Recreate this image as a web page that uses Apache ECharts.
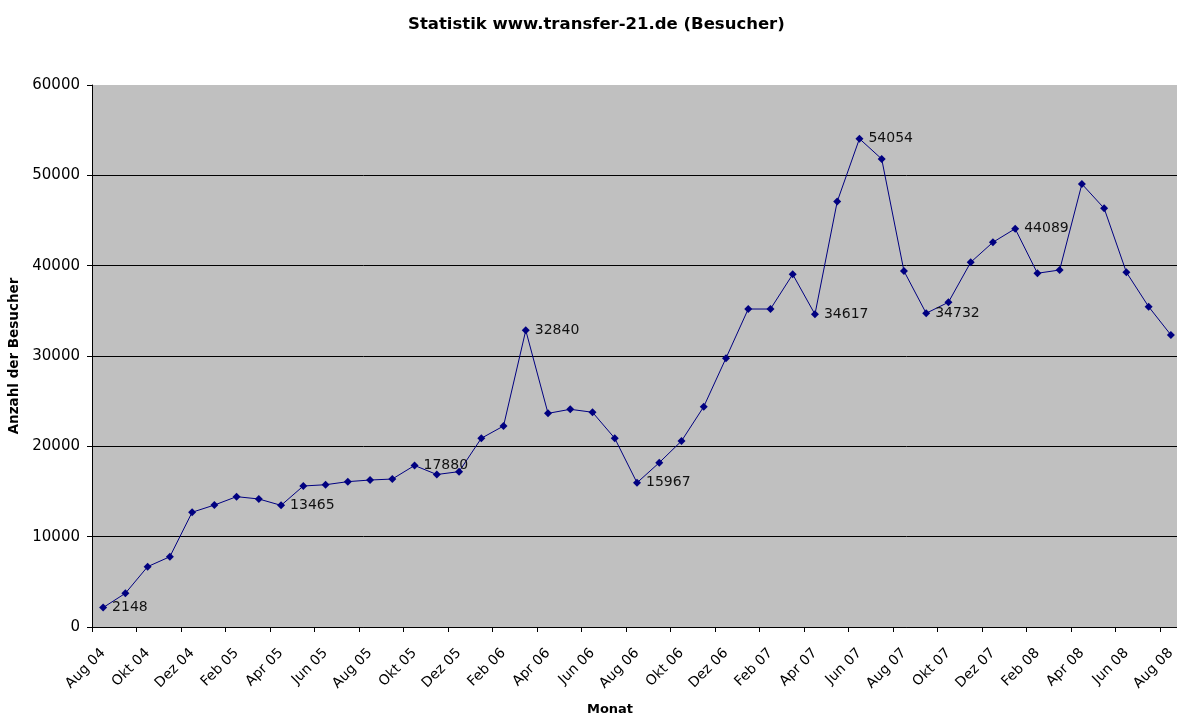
<!DOCTYPE html>
<html>
<head>
<meta charset="utf-8">
<script src="https://cdn.jsdelivr.net/npm/echarts@6/dist/echarts.min.js"></script>
<style>
html,body{margin:0;padding:0;background:#fff;overflow:hidden;}
#chart{width:1177px;height:717px;}
</style>
</head>
<body>
<div id="chart"></div>
<script>
var categories = [
  "Aug 04","Sep 04","Okt 04","Nov 04","Dez 04",
  "Jan 05","Feb 05","Mär 05","Apr 05","Mai 05","Jun 05","Jul 05","Aug 05","Sep 05","Okt 05","Nov 05","Dez 05",
  "Jan 06","Feb 06","Mär 06","Apr 06","Mai 06","Jun 06","Jul 06","Aug 06","Sep 06","Okt 06","Nov 06","Dez 06",
  "Jan 07","Feb 07","Mär 07","Apr 07","Mai 07","Jun 07","Jul 07","Aug 07","Sep 07","Okt 07","Nov 07","Dez 07",
  "Jan 08","Feb 08","Mär 08","Apr 08","Mai 08","Jun 08","Jul 08","Aug 08"
];
var visitors = [
  2148, 3730, 6680, 7780, 12700,
  13500, 14430, 14170, 13465, 15610, 15750, 16090, 16270, 16380, 17880, 16880, 17200,
  20890, 22250, 32840, 23650, 24100, 23770, 20890, 15967, 18190, 20590, 24390, 29760,
  35200, 35200, 39040, 34617, 47090, 54054, 51810, 39410, 34732, 35950, 40370, 42590,
  44089, 39160, 39520, 49040, 46350, 39270, 35460, 32330
];
var labelledIndices = [0, 8, 14, 19, 24, 32, 34, 37, 41];
var yTicks = { min: 0, max: 60000, interval: 10000 };

var FONT = 'DejaVu Sans, Liberation Sans, Arial, sans-serif';
var chart = echarts.init(document.getElementById('chart'));
chart.setOption({
  animation: false,
  backgroundColor: '#ffffff',
  title: {
    text: 'Statistik www.transfer-21.de (Besucher)',
    left: 403,
    top: 11,
    textStyle: { fontFamily: FONT, fontSize: 16.5, fontWeight: 'bold', color: '#000' }
  },
  grid: {
    left: 92, top: 85, width: 1090, height: 542,
    outerBoundsMode: 'none',
    containLabel: false,
    show: true, backgroundColor: '#c0c0c0', borderWidth: 0
  },
  xAxis: {
    type: 'category',
    data: categories,
    boundaryGap: true,
    name: 'Monat',
    nameLocation: 'middle',
    nameGap: 76,
    nameTextStyle: { fontFamily: FONT, fontSize: 13, fontWeight: 'bold', color: '#000', padding: [0, 54, 0, 0] },
    axisLine: { show: true, lineStyle: { color: '#000', width: 1 } },
    axisTick: { show: true, interval: 1, inside: false, length: 5, lineStyle: { color: '#000' } },
    axisLabel: {
      interval: 1, rotate: 45, margin: 24,
      fontFamily: FONT, fontSize: 14, color: '#000'
    },
    splitLine: { show: false }
  },
  yAxis: {
    type: 'value',
    min: yTicks.min, max: yTicks.max, interval: yTicks.interval,
    name: 'Anzahl der Besucher',
    nameLocation: 'middle',
    nameGap: 66,
    nameRotate: 90,
    nameTextStyle: { fontFamily: FONT, fontSize: 13.5, fontWeight: 'bold', color: '#000' },
    axisLine: { show: true, lineStyle: { color: '#000', width: 1 } },
    axisTick: { show: true, inside: false, length: 5, lineStyle: { color: '#000' } },
    axisLabel: {
      margin: 12, fontFamily: FONT, fontSize: 15, color: '#000',
      formatter: function (v) { return String(v); }
    },
    splitLine: { show: true, showMaxLine: false, lineStyle: { color: '#000', width: 1 } }
  },
  series: [{
    type: 'line',
    data: visitors,
    symbol: 'diamond',
    symbolSize: 8,
    itemStyle: { color: '#000080' },
    lineStyle: { color: '#000080', width: 1 },
    label: {
      show: true,
      position: 'right',
      distance: 5,
      fontFamily: FONT,
      fontSize: 14,
      color: '#111',
      formatter: function (p) {
        return labelledIndices.indexOf(p.dataIndex) >= 0 ? String(p.value) : '';
      }
    }
  }]
});
</script>
</body>
</html>
